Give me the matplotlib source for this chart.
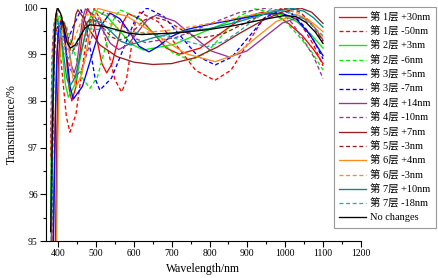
import matplotlib
matplotlib.use('Agg')
import matplotlib.pyplot as plt
from matplotlib.ticker import MultipleLocator

plt.rcParams['font.family'] = ['Liberation Serif', 'Noto Sans CJK SC']
plt.rcParams['mathtext.fontset'] = 'stix'

# wavelength (nm) / transmittance (%), one pair of lists per curve
wl_l1p = [384, 388, 392, 396, 400, 408, 415, 422, 429, 436, 446.5, 457, 467.5, 478, 490.5, 503, 515.5, 528,
          542, 556.5, 571, 585, 619, 652.5, 686, 720, 775, 830, 885, 940, 975, 1010, 1045, 1075, 1100]
tr_l1p = [94.0, 95.8, 97.6, 98.9, 99.5, 99.75, 99.49, 98.88, 98.26, 98.0, 98.29, 98.99, 99.69, 99.98, 99.78, 99.29,
          98.80, 98.6, 98.79, 99.24, 99.68, 99.87, 99.74, 99.44, 99.13, 99.0, 99.13, 99.45, 99.77, 99.9, 99.85,
          99.65, 99.4, 99.1, 98.8]

wl_l1m = [380, 384, 388, 393, 402.5, 412, 421.5, 431, 447, 463, 479, 495, 513, 531.5, 550, 568, 580, 591.5, 603,
          615, 665, 714.5, 764, 814, 857, 899.5, 942, 985, 1015, 1045, 1075, 1100]
tr_l1m = [96.8, 98.6, 99.4, 99.6, 99.27, 98.47, 97.66, 97.33, 97.72, 98.66, 99.59, 99.98, 99.72, 99.09, 98.45,
          98.19, 98.44, 99.05, 99.65, 99.9, 99.69, 99.17, 98.65, 98.44, 98.66, 99.21, 99.76, 99.98, 99.9, 99.6,
          99.2, 98.75]

wl_l2p = [380, 384, 388, 392, 396, 404, 411.5, 419, 427, 444, 461, 478, 495, 527.5, 560, 592.5, 625, 706, 787.5,
          869, 950, 990, 1030, 1065, 1100]
tr_l2p = [95.5, 97.8, 99.2, 99.75, 99.9, 99.63, 98.99, 98.35, 98.08, 98.35, 99.02, 99.68, 99.95, 99.82, 99.52,
          99.22, 99.09, 99.21, 99.49, 99.76, 99.88, 99.85, 99.7, 99.45, 99.13]

wl_l2m = [380, 384, 388, 393, 400, 421, 442, 463, 484, 504, 523.5, 543, 563, 610, 656.5, 703, 750, 792.5, 835,
          877.5, 920, 960, 1000, 1035, 1070, 1100]
tr_l2m = [95.8, 97.8, 99.1, 99.7, 99.85, 99.62, 99.06, 98.50, 98.27, 98.52, 99.11, 99.70, 99.95, 99.79, 99.41,
          99.03, 98.87, 99.03, 99.42, 99.81, 99.97, 99.9, 99.7, 99.4, 99.05, 98.66]

wl_l3p = [385, 389, 393, 397, 401, 408, 416, 424, 432, 440, 464, 488.5, 513, 537, 563, 588.5, 614, 640, 665, 695,
          735, 800, 880, 950, 990, 1030, 1065, 1100]
tr_l3p = [93.5, 95.8, 97.8, 99.0, 99.55, 99.7, 99.46, 98.87, 98.28, 98.04, 98.31, 98.96, 99.61, 99.88, 99.76,
          99.47, 99.17, 99.05, 99.17, 99.36, 99.52, 99.64, 99.76, 99.86, 99.88, 99.75, 99.42, 98.97]

wl_l3m = [381, 385, 389, 394, 400, 410, 425, 440, 460, 472.5, 485, 497.5, 510, 541, 572, 603, 634, 679, 724.5, 770,
          815, 859, 902.5, 946, 990, 1020, 1050, 1075, 1100]
tr_l3m = [94.0, 96.8, 98.8, 99.5, 99.6, 99.4, 99.3, 99.6, 99.95, 99.70, 99.09, 98.48, 98.23, 98.49, 99.11, 99.73,
          99.99, 99.81, 99.38, 98.95, 98.77, 98.94, 99.36, 99.78, 99.95, 99.85, 99.6, 99.3, 98.9]

wl_l4p = [390, 394, 398, 402, 407, 414, 421, 428, 435, 442, 449.5, 457, 464.5, 472, 494, 516, 538, 560, 585, 610,
          635, 660, 708, 756, 804, 852, 899, 946, 993, 1040, 1060, 1080, 1100]
tr_l4p = [93.0, 95.0, 97.4, 98.9, 99.5, 99.7, 99.54, 99.15, 98.76, 98.6, 98.80, 99.29, 99.77, 99.97, 99.84, 99.54,
          99.23, 99.1, 99.21, 99.47, 99.73, 99.84, 99.71, 99.39, 99.07, 98.94, 99.07, 99.37, 99.67, 99.8, 99.72,
          99.55, 99.3]

wl_l4m = [380, 384, 388, 392, 405, 418.5, 432, 445, 464, 482.5, 501, 520, 547.5, 575, 602.5, 630, 712.5, 795,
          877.5, 960, 990, 1020, 1045, 1075, 1100]
tr_l4m = [97.2, 99.0, 99.6, 99.75, 99.57, 99.13, 98.68, 98.5, 98.70, 99.2, 99.70, 99.9, 99.81, 99.58, 99.34, 99.25,
          99.36, 99.63, 99.89, 100.0, 99.9, 99.65, 99.35, 98.95, 98.48]

wl_l5p = [389, 393, 397, 401, 406, 412, 417, 422, 427, 432, 437, 442, 447, 452, 465, 484, 510, 555, 600, 650, 700,
          760, 820, 880, 940, 990, 1040, 1070, 1100]
tr_l5p = [93.0, 95.0, 97.5, 98.9, 99.5, 99.7, 99.63, 99.45, 99.27, 99.2, 99.31, 99.59, 99.86, 99.95, 99.8, 99.5,
          99.2, 98.95, 98.83, 98.78, 98.8, 98.92, 99.15, 99.45, 99.72, 99.9, 99.99, 99.9, 99.66]

wl_l5m = [382, 386, 390, 395, 400, 409, 417.5, 426, 435, 447.5, 460, 472.5, 485, 504, 522.5, 541, 560, 582.5, 605,
          627.5, 650, 682.5, 715, 747.5, 780, 837.5, 895, 952.5, 1010, 1040, 1070, 1100]
tr_l5m = [95.0, 97.8, 99.3, 99.85, 99.95, 99.82, 99.5, 99.18, 99.05, 99.15, 99.4, 99.65, 99.75, 99.68, 99.53, 99.37,
          99.3, 99.37, 99.55, 99.73, 99.8, 99.73, 99.58, 99.42, 99.35, 99.44, 99.67, 99.9, 99.99, 99.9, 99.65, 99.27]

wl_l6p = [391, 395, 399, 403, 408, 414, 422, 430.5, 439, 447, 461.5, 476, 490.5, 505, 582.5, 660, 737.5, 815, 869,
          922.5, 976, 1030, 1060, 1080, 1100]
tr_l6p = [92.0, 94.5, 97.2, 98.7, 99.4, 99.6, 99.41, 98.95, 98.49, 98.3, 98.55, 99.14, 99.73, 99.98, 99.81, 99.41,
          99.01, 98.84, 98.99, 99.35, 99.70, 99.85, 99.75, 99.62, 99.48]

wl_l6m = [380, 384, 388, 393, 401, 409, 417, 425, 437.5, 450, 462.5, 475, 506, 537.5, 569, 600, 680, 760, 840, 920,
          1000, 1035, 1070, 1100]
tr_l6m = [96.3, 98.5, 99.5, 99.8, 99.70, 99.45, 99.2, 99.1, 99.21, 99.48, 99.74, 99.85, 99.79, 99.65, 99.51, 99.45,
          99.5, 99.6, 99.72, 99.86, 99.95, 99.88, 99.65, 99.35]

wl_l7p = [381, 385, 389, 393, 397, 405, 413.5, 422, 430, 445, 460, 475, 490, 515, 540, 565, 590, 650, 720, 800, 870,
          940, 1000, 1020, 1050, 1075, 1100]
tr_l7p = [94.5, 97.3, 99.0, 99.6, 99.75, 99.54, 99.03, 98.51, 98.3, 98.51, 99.03, 99.54, 99.75, 99.67, 99.48, 99.28,
          99.2, 99.35, 99.48, 99.55, 99.68, 99.85, 99.96, 99.98, 99.92, 99.78, 99.58]

wl_l7m = [380, 383, 386, 390, 395, 402.5, 410, 417.5, 425, 436, 447.5, 459, 470, 530, 600, 660, 720, 793, 840, 880,
          920, 960, 1000, 1040, 1070, 1100]
tr_l7m = [95.6, 97.5, 98.8, 99.5, 99.7, 99.58, 99.3, 99.02, 98.9, 98.99, 99.23, 99.46, 99.55, 99.52, 99.47, 99.42,
          99.32, 99.16, 99.28, 99.5, 99.75, 99.95, 99.92, 99.8, 99.62, 99.4]

wl_ref = [380, 385, 390, 394, 398, 406.5, 415, 423.5, 432, 445, 458, 471, 484, 518, 552, 586, 620, 720, 800, 870,
          940, 1000, 1030, 1055, 1080, 1100]
tr_ref = [95.2, 97.6, 99.3, 99.85, 100.0, 99.87, 99.57, 99.26, 99.13, 99.20, 99.38, 99.56, 99.63, 99.60, 99.53,
          99.45, 99.42, 99.46, 99.53, 99.62, 99.74, 99.83, 99.80, 99.68, 99.47, 99.23]

labels = ['第 1层 +30nm', '第 1层 -50nm', '第 2层 +3nm', '第 2层 -6nm', '第 3层 +5nm', '第 3层 -7nm',
          '第 4层 +14nm', '第 4层 -10nm', '第 5层 +7nm', '第 5层 -3nm', '第 6层 +4nm', '第 6层 -3nm',
          '第 7层 +10nm', '第 7层 -18nm', 'No changes']

series = [(wl_l1p, tr_l1p), (wl_l1m, tr_l1m), (wl_l2p, tr_l2p), (wl_l2m, tr_l2m),
          (wl_l3p, tr_l3p), (wl_l3m, tr_l3m), (wl_l4p, tr_l4p), (wl_l4m, tr_l4m),
          (wl_l5p, tr_l5p), (wl_l5m, tr_l5m), (wl_l6p, tr_l6p), (wl_l6m, tr_l6m),
          (wl_l7p, tr_l7p), (wl_l7m, tr_l7m), (wl_ref, tr_ref)]

colors = ['#FF0000', '#FF0000', '#00F000', '#00F000', '#0000FF', '#0000FF', '#993399', '#993399',
          '#991F1F', '#991F1F', '#FF8C1A', '#FF8C1A', '#008B8B', '#33AAAA', '#000000']
dashed = [False, True] * 7 + [False]

fig = plt.figure(figsize=(4.39, 2.78), dpi=100)
ax = fig.add_axes([0.105, 0.133, 0.717, 0.84])

for (x, y), c, d, lab in zip(series, colors, dashed, labels):
    if d:
        ax.plot(x, y, color=c, lw=0.95, dashes=(3, 2), label=lab)
    else:
        ax.plot(x, y, color=c, lw=0.95, label=lab)

ax.set_xlim(368, 1200)
ax.set_ylim(95, 100)
ax.xaxis.set_major_locator(MultipleLocator(100))
ax.xaxis.set_minor_locator(MultipleLocator(50))
ax.yaxis.set_major_locator(MultipleLocator(1))
ax.yaxis.set_minor_locator(MultipleLocator(0.5))
ax.tick_params(which='major', direction='out', length=4, width=0.8, labelsize=7, pad=2)
ax.tick_params(which='minor', direction='out', length=2, width=0.8)
for s in ['top', 'right']:
    ax.spines[s].set_visible(False)
for s in ['left', 'bottom']:
    ax.spines[s].set_linewidth(0.8)

ax.set_xlabel('Wavelength/nm', fontsize=8.5, labelpad=3)
ax.set_ylabel('Transmittance/%', fontsize=8.5, labelpad=4)

leg = ax.legend(loc='upper left', bbox_to_anchor=(334 / 439, 1 - 7 / 278), bbox_transform=fig.transFigure,
                fontsize=7.5, frameon=True, fancybox=False, edgecolor='#808080', handlelength=2.6,
                handletextpad=0.4, labelspacing=0.4, borderpad=0.5, borderaxespad=0)
leg.get_frame().set_linewidth(0.8)

fig.savefig('out.png', dpi=100)
